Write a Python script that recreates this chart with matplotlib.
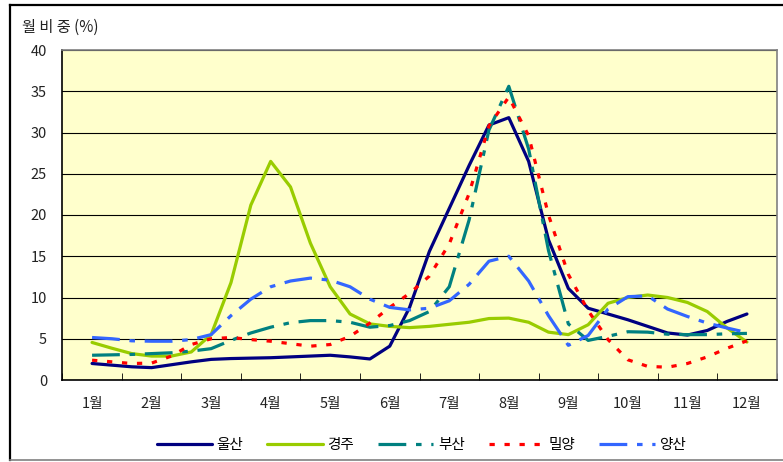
import numpy as np
import matplotlib
matplotlib.use('Agg')
import matplotlib.pyplot as plt
from matplotlib.lines import Line2D

plt.rcParams['font.family'] = ['Noto Sans CJK KR', 'DejaVu Sans']
plt.rcParams['lines.scale_dashes'] = False

# 월 라벨 (값은 1/3개월 간격으로 읽음)
months = ['1월', '2월', '3월', '4월', '5월', '6월', '7월', '8월', '9월', '10월', '11월', '12월']
steps_per_month = 3

ulsan = [2.0, 1.8, 1.6, 1.5, 1.85, 2.2, 2.5, 2.6, 2.65, 2.7, 2.8, 2.9, 3.0, 2.8, 2.55, 4.1, 8.8,
         15.6, 20.8, 26.0, 30.9, 31.8, 26.5, 17.0, 11.1, 8.7, 8.0, 7.3, 6.5, 5.7, 5.45, 6.0, 7.1, 8.0]
gyeongju = [4.55, 3.85, 3.2, 2.9, 2.9, 3.4, 5.5, 11.8, 21.2, 26.5, 23.4, 16.6, 11.3, 8.0, 6.8, 6.5, 6.35,
            6.5, 6.75, 7.0, 7.45, 7.5, 7.0, 5.8, 5.5, 6.7, 9.3, 10.0, 10.3, 10.0, 9.4, 8.3, 6.3, 4.6]
busan = [3.0, 3.05, 3.1, 3.2, 3.3, 3.5, 3.8, 4.8, 5.7, 6.4, 6.95, 7.2, 7.2, 7.0, 6.4, 6.6, 7.2,
         8.3, 11.3, 19.4, 30.3, 35.6, 28.0, 15.7, 6.8, 4.8, 5.3, 5.85, 5.8, 5.55, 5.5, 5.5, 5.6, 5.65]
miryang = [2.4, 2.2, 2.0, 2.05, 2.9, 4.3, 5.0, 5.15, 4.9, 4.7, 4.4, 4.1, 4.3, 5.3, 6.9, 8.8, 10.5,
           12.6, 16.5, 22.6, 30.8, 34.3, 29.6, 20.0, 12.8, 8.4, 4.9, 2.45, 1.65, 1.55, 2.0, 2.8, 3.85, 4.75]
yangsan = [5.15, 5.0, 4.75, 4.7, 4.7, 4.9, 5.5, 7.8, 9.8, 11.3, 12.0, 12.35, 12.1, 11.3, 9.8, 8.8, 8.5,
           8.7, 9.6, 11.6, 14.4, 15.0, 12.0, 7.8, 4.2, 5.4, 8.6, 10.1, 10.2, 8.6, 7.7, 6.9, 6.3, 5.75]

series = [
    ('울산', ulsan, '#000080', '-'),
    ('경주', gyeongju, '#99CC00', '-'),
    ('부산', busan, '#008080', (0, (20, 7, 4, 7))),
    ('밀양', miryang, '#FF0000', (0, (3.8, 7))),
    ('양산', yangsan, '#3366FF', (0, (20, 7, 4, 7))),
]

fig = plt.figure(figsize=(7.83, 4.62), dpi=100)
ax = fig.add_axes([62.3 / 783, 82 / 462, 714.4 / 783, 330 / 462])
ax.set_facecolor('#FFFFCC')

x = np.arange(len(ulsan)) / steps_per_month
for name, vals, col, ls in series:
    ax.plot(x, vals, color=col, lw=2.3, linestyle=ls, label=name,
            dash_capstyle='butt', solid_capstyle='round', solid_joinstyle='round')

ax.set_xlim(-0.5, 11.5)
ax.set_ylim(0, 40)
ax.set_yticks(range(0, 41, 5))
ax.yaxis.grid(True, color='black', lw=0.8)
ax.set_axisbelow(True)

ax.set_xticks(range(12))
ax.set_xticklabels(months)
ax.set_xticks(np.arange(-0.5, 12, 1), minor=True)
ax.tick_params(axis='x', which='major', length=0, pad=12, labelsize=10.5, labelcolor='#222222')
ax.tick_params(axis='x', which='minor', direction='in', length=5, color='black')
ax.tick_params(axis='y', length=0, pad=11, labelsize=10.5, labelcolor='#222222')

for s in ['left', 'bottom']:
    ax.spines[s].set_color('black')
    ax.spines[s].set_linewidth(1.2)
for s in ['top', 'right']:
    ax.spines[s].set_color('#808080')
    ax.spines[s].set_linewidth(1.2)

fig.text(22 / 783, 1 - 27 / 462, '월 비 중 (%)', fontsize=11, color='#222222', va='center', ha='left')

ax.legend(loc='center', bbox_to_anchor=(0.538, 17 / 462), bbox_transform=fig.transFigure,
          ncol=5, frameon=False, fontsize=10.5, handlelength=3.8, handletextpad=0.3,
          columnspacing=1.65)

# 바깥 테두리
fig.add_artist(Line2D([10 / 783, 1], [1 - 5 / 462] * 2, transform=fig.transFigure, color='black', lw=1.6))
fig.add_artist(Line2D([10 / 783] * 2, [2 / 462, 1 - 5 / 462], transform=fig.transFigure, color='black', lw=1.6))
fig.add_artist(Line2D([10 / 783, 1], [2 / 462] * 2, transform=fig.transFigure, color='#808080', lw=1.2))

fig.savefig('out.png', dpi=100)
